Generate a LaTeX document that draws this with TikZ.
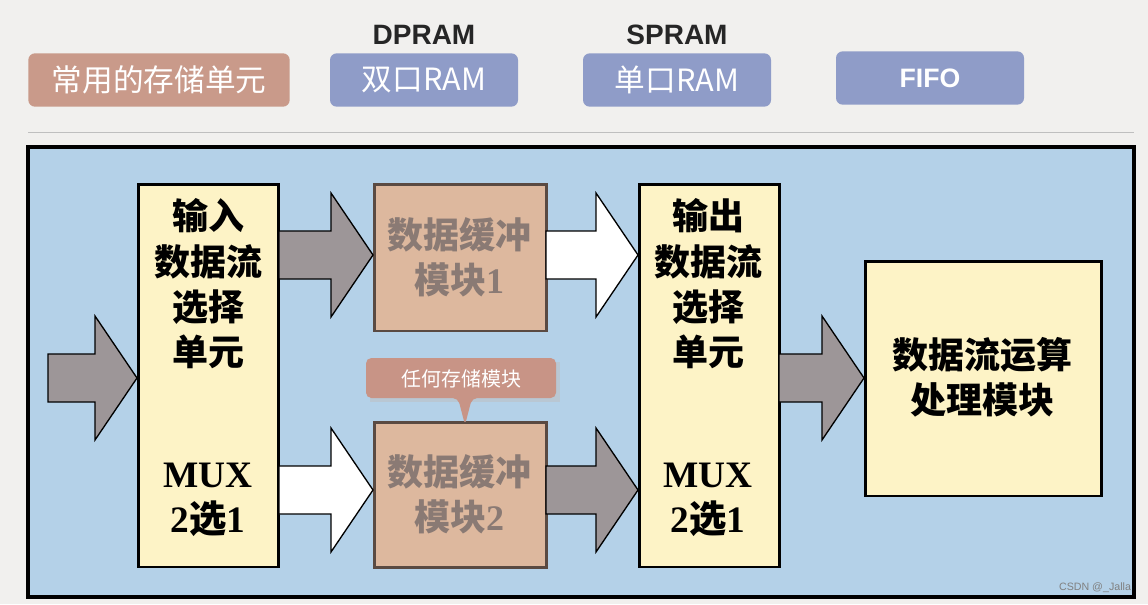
\documentclass[tikz,border=0pt]{standalone}
\usepackage{fontspec}
\setmainfont{Liberation Serif}
\newfontfamily\cjk{Noto Sans CJK SC}
\newfontfamily\sans{Liberation Sans}
\begin{document}
\begin{tikzpicture}[x=0.75pt,y=-0.75pt,
  pill/.style={rounded corners=5pt,minimum height=40pt,inner sep=0pt,text=white,font=\cjk\fontsize{23}{24}\selectfont},
  unit/.style={draw=black,line width=2pt,fill=yellowbox,anchor=north west,inner sep=0pt},
  buf/.style={draw=brownline,line width=2pt,fill=tanbox,anchor=north west,inner sep=0pt},
  utext/.style={font=\cjk\bfseries\fontsize{27}{34}\selectfont,align=center,text=black},
  btext/.style={font=\cjk\bfseries\fontsize{27}{34}\selectfont,align=center,text=buftext},
  garrow/.style={draw=black,line width=1pt,fill=grayarrow},
  warrow/.style={draw=black,line width=1pt,fill=white}]
\definecolor{paper}{HTML}{F1F0EE}
\definecolor{rose}{HTML}{C99A8A}
\definecolor{lav}{HTML}{8F9CC8}
\definecolor{bluebg}{HTML}{B4D1E8}
\definecolor{yellowbox}{HTML}{FDF3C6}
\definecolor{tanbox}{HTML}{DDB89E}
\definecolor{brownline}{HTML}{5A4A42}
\definecolor{buftext}{HTML}{8A7A74}
\definecolor{grayarrow}{HTML}{9D9698}
\definecolor{callout}{HTML}{C89486}
\fill[paper] (0,0) rectangle (1148,604);
\useasboundingbox (0,0) rectangle (1148,604);
\draw[gray!50,line width=0.6pt] (28,132) -- (1134,132);
% pills
\node[pill,fill=rose,minimum width=196pt] (p0) at (159,80) {常用的存储单元};
\node[pill,fill=lav,minimum width=141pt] (p1) at (424,80) {双口RAM};
\node[pill,fill=lav,minimum width=141pt] (p2) at (677,80) {单口RAM};
\node[pill,fill=lav,minimum width=141pt,font=\sans\bfseries\fontsize{20}{22}\selectfont] (p3) at (930,78) {FIFO};
\node[font=\sans\bfseries\fontsize{21}{22}\selectfont,text=black!85] (l1) at (424,35) {DPRAM};
\node[font=\sans\bfseries\fontsize{21}{22}\selectfont,text=black!85] (l2) at (677,35) {SPRAM};
% main box
\draw[fill=bluebg,line width=2.5pt] (28,147) rectangle (1134,597);
% units
\node[unit,minimum width=105pt,minimum height=287pt] (in) at (137,183) {};
\node[unit,minimum width=105pt,minimum height=287pt] (out) at (638,183) {};
\node[buf,minimum width=129pt,minimum height=110pt] (b1) at (373,183) {};
\node[buf,minimum width=129pt,minimum height=109pt] (b2) at (373,421) {};
\node[unit,minimum width=177pt,minimum height=176pt] (proc) at (864,260) {};
\node[utext] (tin) at (208,284) {输入\\数据流\\选择\\单元};
\node[utext,font=\bfseries\fontsize{28}{34}\selectfont] (min) at (208,500) {MUX\\2{\cjk 选}1};
\node[utext] (tout) at (708,284) {输出\\数据流\\选择\\单元};
\node[utext,font=\bfseries\fontsize{28}{34}\selectfont] (mout) at (708,500) {MUX\\2{\cjk 选}1};
\node[btext] (tb1) at (459,257) {数据缓冲\\模块{\rmfamily 1}};
\node[btext] (tb2) at (459,494) {数据缓冲\\模块{\rmfamily 2}};
\node[utext] (tp) at (982,377) {数据流运算\\处理模块};
% arrows
\def\barrow#1#2#3#4{\draw[#1] (#2,#3-24) -- (#2+#4-42,#3-24) -- (#2+#4-42,#3-62) -- (#2+#4,#3) -- (#2+#4-42,#3+62) -- (#2+#4-42,#3+24) -- (#2,#3+24) -- cycle;}
\barrow{garrow}{48}{378}{89}
\barrow{garrow}{279}{255}{94}
\barrow{warrow}{279}{490}{94}
\barrow{warrow}{546}{255}{92}
\barrow{garrow}{546}{490}{92}
\barrow{garrow}{779}{378}{85}
% callout
\fill[black!25,opacity=0.5] (370,362) rectangle (560,402);
\fill[callout,rounded corners=4pt] (366,358) -- (556,358) -- (556,398) -- (472,398) -- (465,425) -- (458,398) -- (366,398) -- cycle;
\node[text=white,font=\cjk\fontsize{15}{16}\selectfont] (co) at (461,379) {任何存储模块};
\node[font=\sans\fontsize{8}{9}\selectfont,text=gray] (wm) at (1095,588) {CSDN @\_Jalla};
\end{tikzpicture}
\end{document}
